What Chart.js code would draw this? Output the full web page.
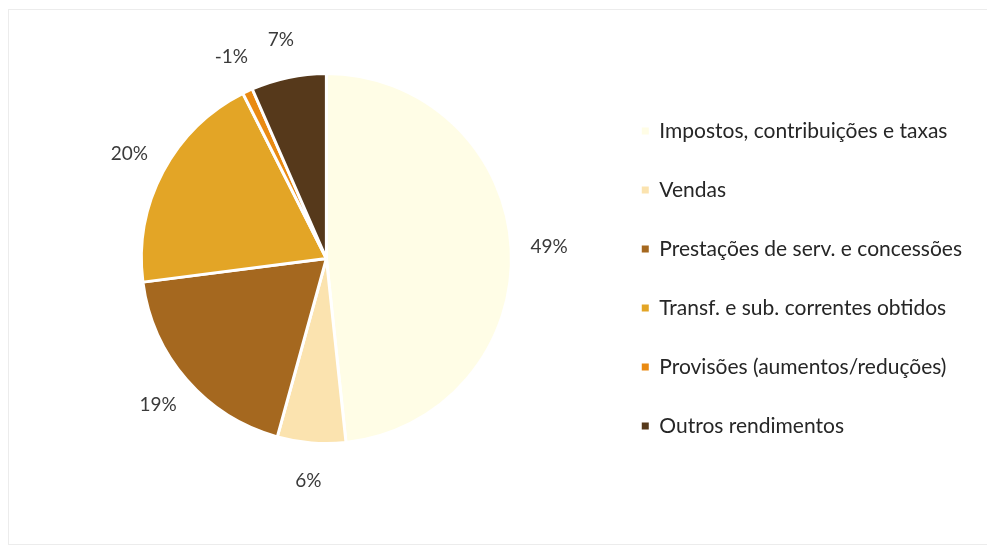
<!DOCTYPE html>
<html>
<head>
<meta charset="utf-8">
<script src="https://cdn.jsdelivr.net/npm/chart.js@4.4.0/dist/chart.umd.min.js"></script>
<style>
  body { margin: 0; background: #fff; }
  #wrap { position: relative; width: 987px; height: 546px; overflow: hidden; }
  #frame { position: absolute; left: 8px; top: 9px; width: 1000px; height: 536px;
           border: 1px solid #ececec; box-sizing: border-box; }
  canvas { position: absolute; left: 0; top: 0; }
</style>
</head>
<body>
<div id="wrap">
  <div id="frame"></div>
  <canvas id="rendimentos" width="987" height="546"></canvas>
</div>
<script>
// receitas por natureza (% do total)
const categorias = [
  'Impostos, contribuições e taxas',
  'Vendas',
  'Prestações de serv. e concessões',
  'Transf. e sub. correntes obtidos',
  'Provisões (aumentos/reduções)',
  'Outros rendimentos'
]
const percentagens = [48.6, 6.0, 18.8, 19.7, -0.9, 6.6]
const cores = ['#fffde6', '#fbe3af', '#a5681f', '#e3a526', '#e98a12', '#56391b']

// rótulos de percentagem fora de cada fatia
const rotulosFatias = {
  id: 'rotulosFatias',
  afterDatasetsDraw(chart) {
    const ctx = chart.ctx
    const meta = chart.getDatasetMeta(0)
    ctx.save()
    ctx.font = '19px Lato'
    ctx.fillStyle = '#3a3a3a'
    ctx.textAlign = 'center'
    ctx.textBaseline = 'middle'
    meta.data.forEach((arc, i) => {
      const p = arc.getProps(['x', 'y', 'startAngle', 'endAngle', 'outerRadius'], true)
      const mid = (p.startAngle + p.endAngle) / 2
      const r = p.outerRadius + 38
      const txt = Math.round(percentagens[i]) + '%'
      ctx.fillText(txt, p.x + Math.cos(mid) * r, p.y + Math.sin(mid) * r)
    })
    ctx.restore()
  }
}

const ctx = document.getElementById('rendimentos')
const grafico = new Chart(ctx, {
  type: 'pie',
  data: {
    labels: categorias,
    datasets: [{
      data: percentagens,
      backgroundColor: cores,
      borderColor: '#ffffff',
      borderWidth: 3
    }]
  },
  options: {
    responsive: false,
    animation: false,
    radius: 185,
    layout: {
      padding: { left: 49, right: 15, top: 0, bottom: 29 }
    },
    plugins: {
      tooltip: { enabled: false },
      legend: {
        position: 'right',
        align: 'center',
        title: { display: true, text: '', font: { size: 10 }, padding: { top: 28, bottom: 0 } },
        labels: {
          boxWidth: 7,
          boxHeight: 7,
          padding: 38,
          color: '#262626',
          font: { family: 'Lato', size: 21 },
          generateLabels(chart) {
            const base = Chart.overrides.pie.plugins.legend.labels.generateLabels(chart)
            return base.map(item => Object.assign(item, { lineWidth: 0, strokeStyle: item.fillStyle }))
          }
        }
      }
    }
  },
  plugins: [rotulosFatias]
})
</script>
</body>
</html>
